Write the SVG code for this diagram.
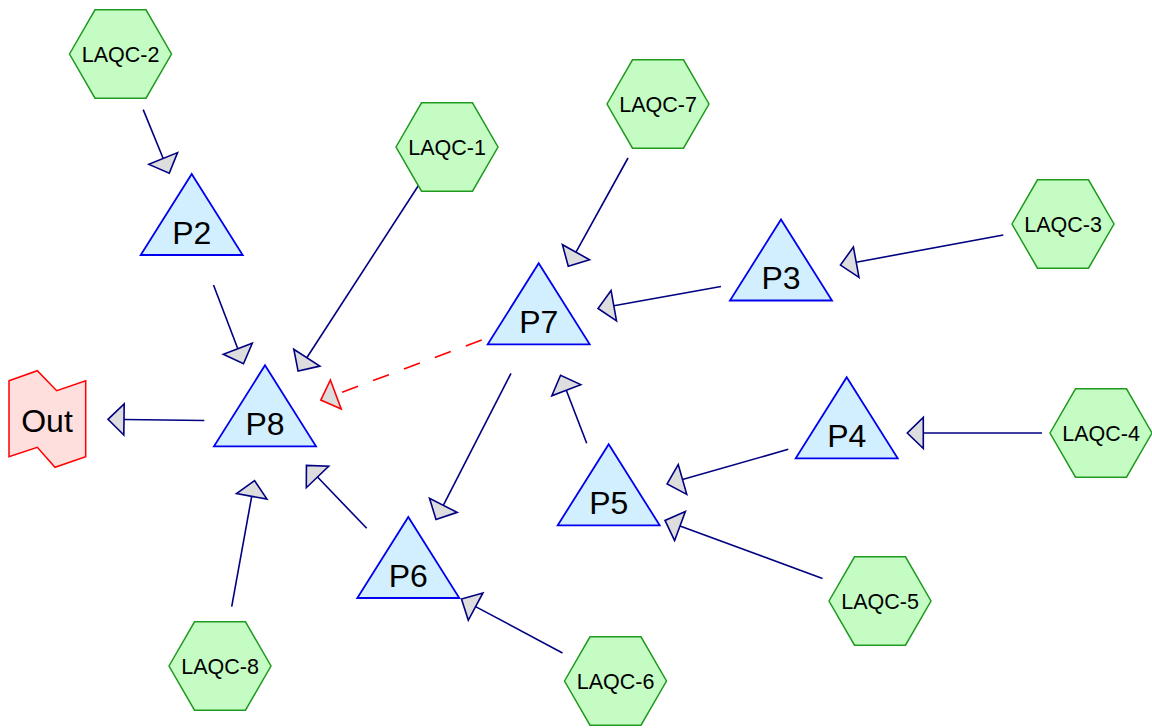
<svg xmlns="http://www.w3.org/2000/svg" xmlns:xlink="http://www.w3.org/1999/xlink" width="1152" height="728" viewBox="0 0 1152 728">
<style>
.hex{fill:#c4fcc4;stroke:#1e9a1e;stroke-width:1.5}
.tri{fill:#d2efff;stroke:#0000ee;stroke-width:1.8}
.out{fill:#ffdede;stroke:#ff0000;stroke-width:1.5}
.hl{font-family:"Liberation Sans",Arial,sans-serif;font-size:21.5px;fill:#000;text-anchor:middle}
.pl{font-family:"Liberation Sans",Arial,sans-serif;font-size:32px;fill:#000;text-anchor:middle}
.e{stroke:#000080;stroke-width:1.6;fill:none;marker-end:url(#ah)}
.r{stroke:#ff0000;stroke-width:1.6;fill:none;stroke-dasharray:17 16;marker-end:url(#ahr)}
</style>
<defs>
<marker id="ah" markerUnits="userSpaceOnUse" orient="auto" refX="0" refY="0" markerWidth="40" markerHeight="40" overflow="visible">
<path d="M0,-15.5 L16,0 L0,15.5 Z" fill="#dddddd" stroke="#000080" stroke-width="1.6" stroke-linejoin="miter"/>
</marker>
<marker id="ahr" markerUnits="userSpaceOnUse" orient="auto" refX="0" refY="0" markerWidth="40" markerHeight="40" overflow="visible">
<path d="M0,-15.5 L16,0 L0,15.5 Z" fill="#dddddd" stroke="#ff0000" stroke-width="1.6"/>
</marker>
<polygon id="hexshape" points="-51,0 -25.5,-44.2 25.5,-44.2 51,0 25.5,44.2 -25.5,44.2"/>
<polygon id="trishape" points="0,0 51,81 -51,81"/>
</defs>
<g id="connectors">
<line class="e" x1="143.2" y1="109.6" x2="163.2" y2="158.5"/>
<line class="e" x1="213.5" y1="285" x2="237.8" y2="348.8"/>
<line class="e" x1="428.5" y1="170" x2="306.8" y2="357.7"/>
<line class="e" x1="628" y1="158" x2="576" y2="252.2"/>
<line class="e" x1="1003.3" y1="235" x2="856.2" y2="262.2"/>
<line class="e" x1="721" y1="286.5" x2="613.8" y2="305.7"/>
<line class="r" x1="481.7" y1="340" x2="335.8" y2="394.5"/>
<line class="e" x1="511" y1="373.3" x2="443.3" y2="505.3"/>
<line class="e" x1="586.7" y1="443.3" x2="566.3" y2="390.2"/>
<line class="e" x1="788.3" y1="449.3" x2="682.5" y2="479.5"/>
<line class="e" x1="1042" y1="433" x2="923.3" y2="433"/>
<line class="e" x1="822.5" y1="578.5" x2="680" y2="526"/>
<line class="e" x1="562.5" y1="653" x2="475.6" y2="606.6"/>
<line class="e" x1="366.7" y1="528.3" x2="317.5" y2="477"/>
<line class="e" x1="231.7" y1="606.7" x2="251.7" y2="496.3"/>
<line class="e" x1="204.3" y1="420.5" x2="124" y2="419.5"/>
</g>
<g id="Out">
<polygon class="out" points="9,380.7 37.3,370.7 56.7,390.7 85.7,380.7 85.7,456.7 55,467.3 37.3,447.3 9,456.7"/>
<text class="pl" x="47" y="431.5">Out</text>
</g>
<g id="P2" transform="translate(191.7,174)"><use xlink:href="#trishape" class="tri"/><text class="pl" y="69.5">P2</text></g>
<g id="P8" transform="translate(265,365.3)"><use xlink:href="#trishape" class="tri"/><text class="pl" y="69.5">P8</text></g>
<g id="P7" transform="translate(538.7,263.3)"><use xlink:href="#trishape" class="tri"/><text class="pl" y="69.5">P7</text></g>
<g id="P5" transform="translate(608.7,444.3)"><use xlink:href="#trishape" class="tri"/><text class="pl" y="69.5">P5</text></g>
<g id="P3" transform="translate(781,219.5)"><use xlink:href="#trishape" class="tri"/><text class="pl" y="69.5">P3</text></g>
<g id="P4" transform="translate(846.7,377.3)"><use xlink:href="#trishape" class="tri"/><text class="pl" y="69.5">P4</text></g>
<g id="P6" transform="translate(408.3,517)"><use xlink:href="#trishape" class="tri"/><text class="pl" y="69.5">P6</text></g>
<g id="LAQC-2" transform="translate(120.5,54)"><use xlink:href="#hexshape" class="hex"/><text class="hl" y="8">LAQC-2</text></g>
<g id="LAQC-1" transform="translate(447,147)"><use xlink:href="#hexshape" class="hex"/><text class="hl" y="8">LAQC-1</text></g>
<g id="LAQC-7" transform="translate(658,104)"><use xlink:href="#hexshape" class="hex"/><text class="hl" y="8">LAQC-7</text></g>
<g id="LAQC-3" transform="translate(1063,224)"><use xlink:href="#hexshape" class="hex"/><text class="hl" y="8">LAQC-3</text></g>
<g id="LAQC-4" transform="translate(1101,433)"><use xlink:href="#hexshape" class="hex"/><text class="hl" y="8">LAQC-4</text></g>
<g id="LAQC-5" transform="translate(880,601)"><use xlink:href="#hexshape" class="hex"/><text class="hl" y="8">LAQC-5</text></g>
<g id="LAQC-6" transform="translate(615.5,681)"><use xlink:href="#hexshape" class="hex"/><text class="hl" y="8">LAQC-6</text></g>
<g id="LAQC-8" transform="translate(220,666)"><use xlink:href="#hexshape" class="hex"/><text class="hl" y="8">LAQC-8</text></g>
</svg>
